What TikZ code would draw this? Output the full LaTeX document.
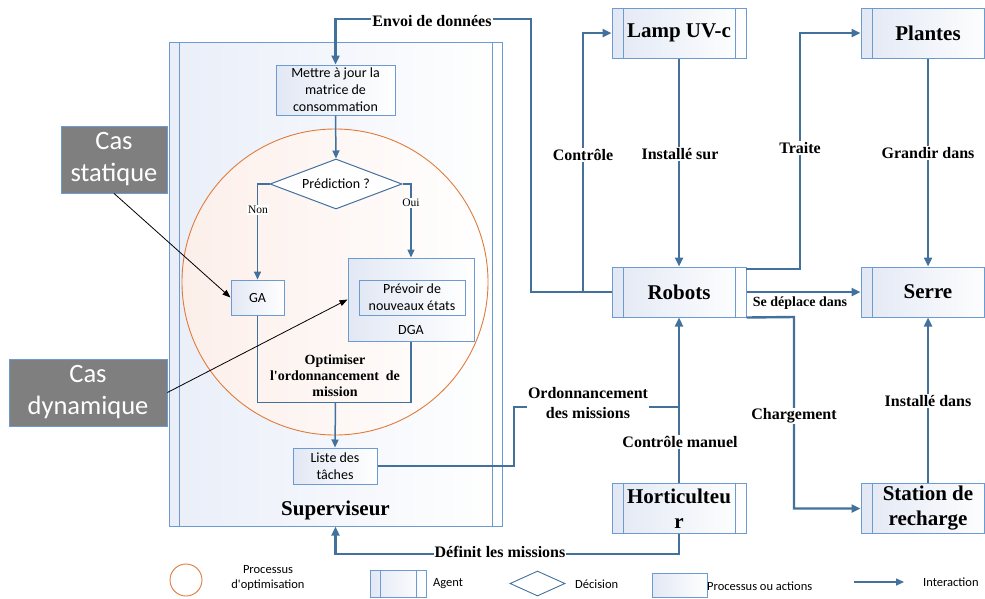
\documentclass[tikz,border=0pt]{standalone}
\usepackage{fontspec}
\setmainfont{Liberation Serif}
\newfontfamily\calfont{Carlito}
\usetikzlibrary{arrows.meta,shapes.geometric,calc}

\definecolor{linkblue}{HTML}{41719C}
\definecolor{boxline}{HTML}{6B9BD1}
\definecolor{boxshade}{HTML}{E2E8F4}
\definecolor{supshade}{HTML}{E9EEF8}
\definecolor{optorange}{HTML}{E07B3C}
\definecolor{optshade}{HTML}{FCEFEA}
\definecolor{casgray}{HTML}{7F7F7F}

\tikzset{
  link/.style={draw=linkblue, line width=2.4pt, -{Triangle[length=9pt,width=8pt]}},
  linkplain/.style={draw=linkblue, line width=2.4pt},
  flow/.style={draw=linkblue, line width=1.5pt, -{Triangle[length=8pt,width=7pt]}},
  flowplain/.style={draw=linkblue, line width=1.5pt},
  pointer/.style={draw=black, line width=0.8pt, -{Triangle[length=8pt,width=6pt]}},
  procbox/.style={rectangle, draw=boxline, line width=1pt, left color=boxshade,
    right color=white, inner sep=0pt, align=center,
    font=\calfont\fontsize{14}{17}\selectfont},
  agentbox/.style={rectangle, draw=boxline, line width=1pt, left color=boxshade,
    right color=white, inner sep=0pt, align=center,
    font=\bfseries\fontsize{21}{25}\selectfont,
    path picture={\draw[boxline, line width=1pt]
      ([xshift=#1]path picture bounding box.north west) --
      ([xshift=#1]path picture bounding box.south west)
      ([xshift=-#1]path picture bounding box.north east) --
      ([xshift=-#1]path picture bounding box.south east);}},
  agentbox/.default=11pt,
  agentsize/.style={minimum width=134pt, minimum height=50pt},
  linklabel/.style={fill=white, inner sep=1pt, align=center,
    font=\bfseries\fontsize{16}{20}\selectfont},
  branchlabel/.style={fill=white, inner sep=1pt, font=\fontsize{11.5}{13}\selectfont},
  casbox/.style={rectangle, draw=boxline, line width=0.8pt, fill=casgray,
    text=white, align=center, inner sep=0pt, minimum height=67pt,
    font=\calfont\fontsize{26.5}{32}\selectfont},
  legendtext/.style={align=center, inner sep=0pt,
    font=\calfont\fontsize{12.5}{15}\selectfont},
}

\begin{document}
\begin{tikzpicture}[x=1pt, y=-1pt]
\useasboundingbox (0,0) rectangle (985,598);

% ---- Supervisor agent and its optimisation process ----
\node[agentbox=10pt, left color=supshade, minimum width=333pt, minimum height=484pt]
  (sup) at (335.5,284) {};
\node[font=\bfseries\fontsize{21}{25}\selectfont] (suplabel) at (335.5,510) {Superviseur};

\node[circle, draw=optorange, line width=0.9pt, left color=optshade, right color=white,
  minimum size=306pt, inner sep=0pt] (optcircle) at (335,282) {};

\node[procbox, minimum width=119pt, minimum height=50pt] (maj) at (335.5,90)
  {Mettre à jour la\\matrice de\\consommation};

\node[diamond, draw=linkblue, line width=1pt, fill=white, aspect=2.64,
  minimum width=132pt, minimum height=50pt, inner sep=0pt,
  font=\calfont\fontsize{14}{17}\selectfont] (pred) at (336,184) {Prédiction ?};

\node[procbox, minimum width=53pt, minimum height=35pt] (ga) at (257.5,297.5) {GA};
\node[procbox, minimum width=126pt, minimum height=83pt] (dga) at (411,299.5) {};
\node[procbox, minimum width=106pt, minimum height=35pt] (prevoir) at (412,297.5)
  {Prévoir de\\nouveaux états};
\node[inner sep=0pt, font=\calfont\fontsize{14}{17}\selectfont] (dgalabel) at (411,330) {DGA};

\node[align=center, inner sep=0pt, font=\bfseries\fontsize{14}{16}\selectfont] (opt)
  at (335,376) {Optimiser\\l\textquotesingle ordonnancement\ \ de\\mission};
\coordinate (optsw) at (257.5,402.5);
\coordinate (optse) at (411,402.5);
\coordinate (optbottom) at (335.5,402.5);

\node[procbox, minimum width=84pt, minimum height=36pt] (liste) at (335,466)
  {Liste des\\tâches};

% ---- Flow inside the supervisor ----
\draw[flow] (maj.south) -- (pred.north);
\draw[flow] (pred.west) -| (ga.north);
\draw[flow] (pred.east) -| (dga.north);
\node[branchlabel] (non) at (258,210) {Non};
\node[branchlabel] (oui) at (411,203) {Oui};
\draw[flowplain] (ga.south) -- (optsw) -- (optse) -- (dga.south);
\draw[flow] (optbottom) -- (liste.north);

% ---- Static / dynamic cases ----
\node[casbox, minimum width=106pt] (statique) at (114,159.5) {Cas\\statique};
\node[casbox, minimum width=158pt] (dynamique) at (88,392.5) {Cas\\dynamique};
\draw[pointer] (statique.south) -- (ga.west);
\draw[pointer] (dynamique.east) -- (dga.west);

% ---- Other agents ----
\node[agentbox, agentsize] (lamp) at (679,33) {Lamp UV-c};
\node[agentbox, agentsize] (robots) at (679,292) {Robots};
\node[agentbox, agentsize] (horti) at (679,508.5) {Horticulteu\\r};
\node[agentbox, agentsize] (plantes) at (928,33) {Plantes};
\node[agentbox, agentsize] (serre) at (928,292) {Serre};
\node[agentbox, agentsize] (station) at (928,508.5) {Station de\\recharge};

% ---- Interactions ----
\coordinate (envoiturn) at (531,19);
\coordinate (ctrlfoot) at (583,292);
\draw[link] (robots.west) -| (envoiturn) -| (maj.north);
\draw[link] (ctrlfoot) |- (lamp.west);
\node[linklabel] (envoilabel) at (432,21) {Envoi de données};
\node[linklabel] (ctrllabel) at (583,155) {Contrôle};

\draw[link] (lamp.south) -- (robots.north);
\node[linklabel] (installesur) at (680,154) {Installé sur};

\coordinate (traitestart) at (746,269);
\coordinate (traitecorner) at (800,269);
\draw[link] (traitestart) -- (traitecorner) |- (plantes.west);
\node[linklabel] (traite) at (800,148) {Traite};

\draw[link] (plantes.south) -- (serre.north);
\node[linklabel] (grandir) at (928,153) {Grandir dans};

\draw[link] (robots.east) -- (serre.west);
\node[inner sep=0pt, font=\bfseries\fontsize{14}{16}\selectfont] (deplace)
  at (800,303.5) {Se déplace dans};

\coordinate (chargecorner) at (794,317);
\draw[link] (robots.south east) -- (chargecorner) |- (station.west);
\node[linklabel] (charge) at (794,416) {Chargement};

\draw[link] (station.north) -- (serre.south);
\node[linklabel] (installedans) at (928,401) {Installé dans};

\draw[link] (horti.north) -- (robots.south);
\node[linklabel] (manuel) at (680,442) {Contrôle manuel};

\coordinate (ordturn) at (514,466);
\coordinate (ordjoin) at (679,407);
\draw[linkplain] (liste.east) -- (ordturn) |- (ordjoin);
\node[linklabel] (ordlabel) at (588,403) {Ordonnancement\\des missions};

\coordinate (defturn) at (679,554);
\draw[link] (horti.south) -- (defturn) -| (sup.south);
\node[linklabel] (deflabel) at (500,552) {Définit les missions};

% ---- Legend ----
\node[circle, draw=optorange, line width=0.9pt, fill=white, minimum size=32pt,
  inner sep=0pt] (legcircle) at (186,580) {};
\node[legendtext] (legcircletext) at (268,578) {Processus\\d\textquotesingle optimisation};
\node[agentbox=10pt, minimum width=56pt, minimum height=27pt] (legagent) at (398,583.5) {};
\node[legendtext, anchor=west] (legagenttext) at (433,584) {Agent};
\node[diamond, draw=linkblue, line width=0.9pt, fill=white, aspect=2.2,
  minimum width=55pt, minimum height=25pt, inner sep=0pt] (legdiamond) at (537.5,583.5) {};
\node[legendtext, anchor=west] (legdiamondtext) at (575,584) {Décision};
\node[procbox, minimum width=55pt, minimum height=24pt] (legproc) at (679.5,585) {};
\node[legendtext, anchor=west] (legproctext) at (707,586) {Processus ou actions};
\coordinate (legarrowstart) at (854,582);
\coordinate (legarrowend) at (904,582);
\draw[draw=linkblue, line width=1.5pt, -{Triangle[length=8pt,width=7pt]}]
  (legarrowstart) -- (legarrowend);
\node[legendtext, anchor=west] (legarrowtext) at (923,582) {Interaction};
\end{tikzpicture}
\end{document}
